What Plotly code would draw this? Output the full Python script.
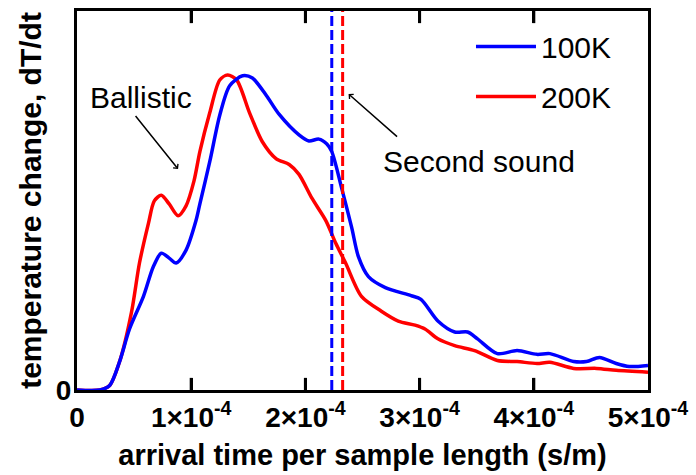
import plotly.graph_objects as go

# ---- data (x in s/m, y in arbitrary units, 0..1 full scale) ----
t100 = [0, 0.200, 0.286, 0.373, 0.460, 0.582, 0.668, 0.738, 0.807, 0.868, 0.955, 1.042,
        1.076, 1.163, 1.250, 1.337, 1.450, 1.536, 1.658, 1.771, 1.944, 2.031, 2.118, 2.188,
        2.231, 2.318, 2.405, 2.465, 2.552, 2.700, 2.925, 3.012, 3.160, 3.307, 3.420, 3.507,
        3.681, 3.854, 4.028, 4.141, 4.349, 4.462, 4.575, 4.722, 4.835, 5.0]
y100 = [0, 0, 0.012, 0.075, 0.161, 0.247, 0.325, 0.361, 0.348, 0.335, 0.369, 0.447,
        0.491, 0.603, 0.725, 0.803, 0.829, 0.823, 0.777, 0.727, 0.673, 0.657, 0.662, 0.649,
        0.629, 0.532, 0.429, 0.351, 0.299, 0.270, 0.249, 0.239, 0.182, 0.153, 0.153, 0.135,
        0.096, 0.104, 0.094, 0.096, 0.075, 0.075, 0.086, 0.070, 0.062, 0.065]

t200 = [0, 0.200, 0.286, 0.373, 0.477, 0.547, 0.625, 0.677, 0.738, 0.807, 0.885, 0.955,
        1.024, 1.076, 1.163, 1.250, 1.319, 1.398, 1.510, 1.623, 1.745, 1.858, 1.944, 2.057,
        2.179, 2.266, 2.352, 2.491, 2.665, 2.813, 2.960, 3.047, 3.160, 3.307, 3.481, 3.681,
        3.854, 4.028, 4.141, 4.349, 4.549, 4.722, 5.0]
y200 = [0, 0, 0.012, 0.075, 0.205, 0.335, 0.439, 0.499, 0.514, 0.491, 0.460, 0.486,
        0.551, 0.629, 0.732, 0.818, 0.831, 0.818, 0.732, 0.655, 0.610, 0.595, 0.569, 0.506,
        0.447, 0.387, 0.335, 0.247, 0.208, 0.182, 0.171, 0.161, 0.135, 0.117, 0.104, 0.078,
        0.075, 0.070, 0.073, 0.057, 0.057, 0.052, 0.047]

second_sound_100 = 2.231e-4
second_sound_200 = 2.326e-4

x_tickvals = [0, 1e-4, 2e-4, 3e-4, 4e-4, 5e-4]
x_ticktext = ["0", "1×10<sup>-4</sup>", "2×10<sup>-4</sup>", "3×10<sup>-4</sup>",
              "4×10<sup>-4</sup>", "5×10<sup>-4</sup>"]

BLUE = "#0000FF"
RED = "#FF0000"
FONT = "Liberation Sans, Arial, sans-serif"
Y_TOP = 1
TICK_FRAC = 0.032  # inside tick length as a fraction of the y range (~12 px)

fig = go.Figure()
# red first so blue is drawn on top; legendrank puts 100K first in the legend
fig.add_trace(go.Scatter(x=[v * 1e-4 for v in t200], y=y200, mode="lines", name="200K",
                         line=dict(color=RED, width=3.5, shape="spline", smoothing=0.8),
                         legendgroup="b", legendrank=2))
fig.add_trace(go.Scatter(x=[v * 1e-4 for v in t100], y=y100, mode="lines", name="100K",
                         line=dict(color=BLUE, width=3.5, shape="spline", smoothing=0.8),
                         legendgroup="a", legendrank=1))
fig.add_trace(go.Scatter(x=[second_sound_100, second_sound_100], y=[0, Y_TOP], mode="lines",
                         line=dict(color=BLUE, width=3, dash="10px,4px"), showlegend=False))
fig.add_trace(go.Scatter(x=[second_sound_200, second_sound_200], y=[0, Y_TOP], mode="lines",
                         line=dict(color=RED, width=3, dash="10px,4px"), showlegend=False))

# inside tick marks on the bottom and top frame edges, at the axis tick values
tick_x, tick_y = [], []
for v in x_tickvals[1:-1]:
    tick_x += [v, v, None, v, v, None]
    tick_y += [0, TICK_FRAC * Y_TOP, None, Y_TOP, Y_TOP * (1 - TICK_FRAC), None]
fig.add_trace(go.Scatter(x=tick_x, y=tick_y, mode="lines", showlegend=False,
                         hoverinfo="skip", connectgaps=False,
                         line=dict(color="black", width=3)))

fig.update_layout(
    width=696, height=475,
    margin=dict(l=77, r=45, t=8, b=83),
    paper_bgcolor="white", plot_bgcolor="white",
    font=dict(family=FONT, color="black"),
    showlegend=True,
    legend=dict(x=0.69, y=0.975, xanchor="left", yanchor="top",
                font=dict(size=30, family=FONT), bgcolor="rgba(0,0,0,0)",
                tracegroupgap=8, itemwidth=60, traceorder="grouped"),
    xaxis=dict(range=[0, 5e-4], showline=True, linewidth=3, linecolor="black",
               mirror="ticks", ticks="inside", ticklen=12, tickwidth=3, tickcolor="black",
               tickvals=x_tickvals, ticktext=x_ticktext, showgrid=False, zeroline=False,
               tickfont=dict(size=28, family=FONT, weight="bold"),
               title=dict(text="arrival time per sample length (s/m)",
                          font=dict(size=29, family=FONT, weight="bold"), standoff=14)),
    yaxis=dict(range=[0, Y_TOP], showline=True, linewidth=3, linecolor="black", mirror=True,
               ticks="", tickvals=[0], ticktext=["0"], showgrid=False, zeroline=False,
               ticklabelstandoff=-3,
               tickfont=dict(size=28, family=FONT, weight="bold"),
               title=dict(text="temperature change, dT/dt",
                          font=dict(size=30, family=FONT, weight="bold"), standoff=6)),
    annotations=[
        dict(x=0.564e-4, y=0.771, xref="x", yref="y", text="Ballistic", showarrow=False,
             font=dict(size=30, family=FONT)),
        dict(x=0.885e-4, y=0.583, xref="x", yref="y", text=" ", showarrow=True,
             font=dict(size=1), ax=-44, ay=-55, arrowhead=4, arrowsize=0.8,
             arrowwidth=1.5, arrowcolor="black"),
        dict(x=3.516e-4, y=0.604, xref="x", yref="y", text="Second sound", showarrow=False,
             font=dict(size=30, family=FONT)),
        dict(x=2.378e-4, y=0.781, xref="x", yref="y", text=" ", showarrow=True,
             font=dict(size=1), ax=50, ay=44, arrowhead=4, arrowsize=0.8,
             arrowwidth=1.5, arrowcolor="black"),
    ],
)

fig.write_html("out.html")
